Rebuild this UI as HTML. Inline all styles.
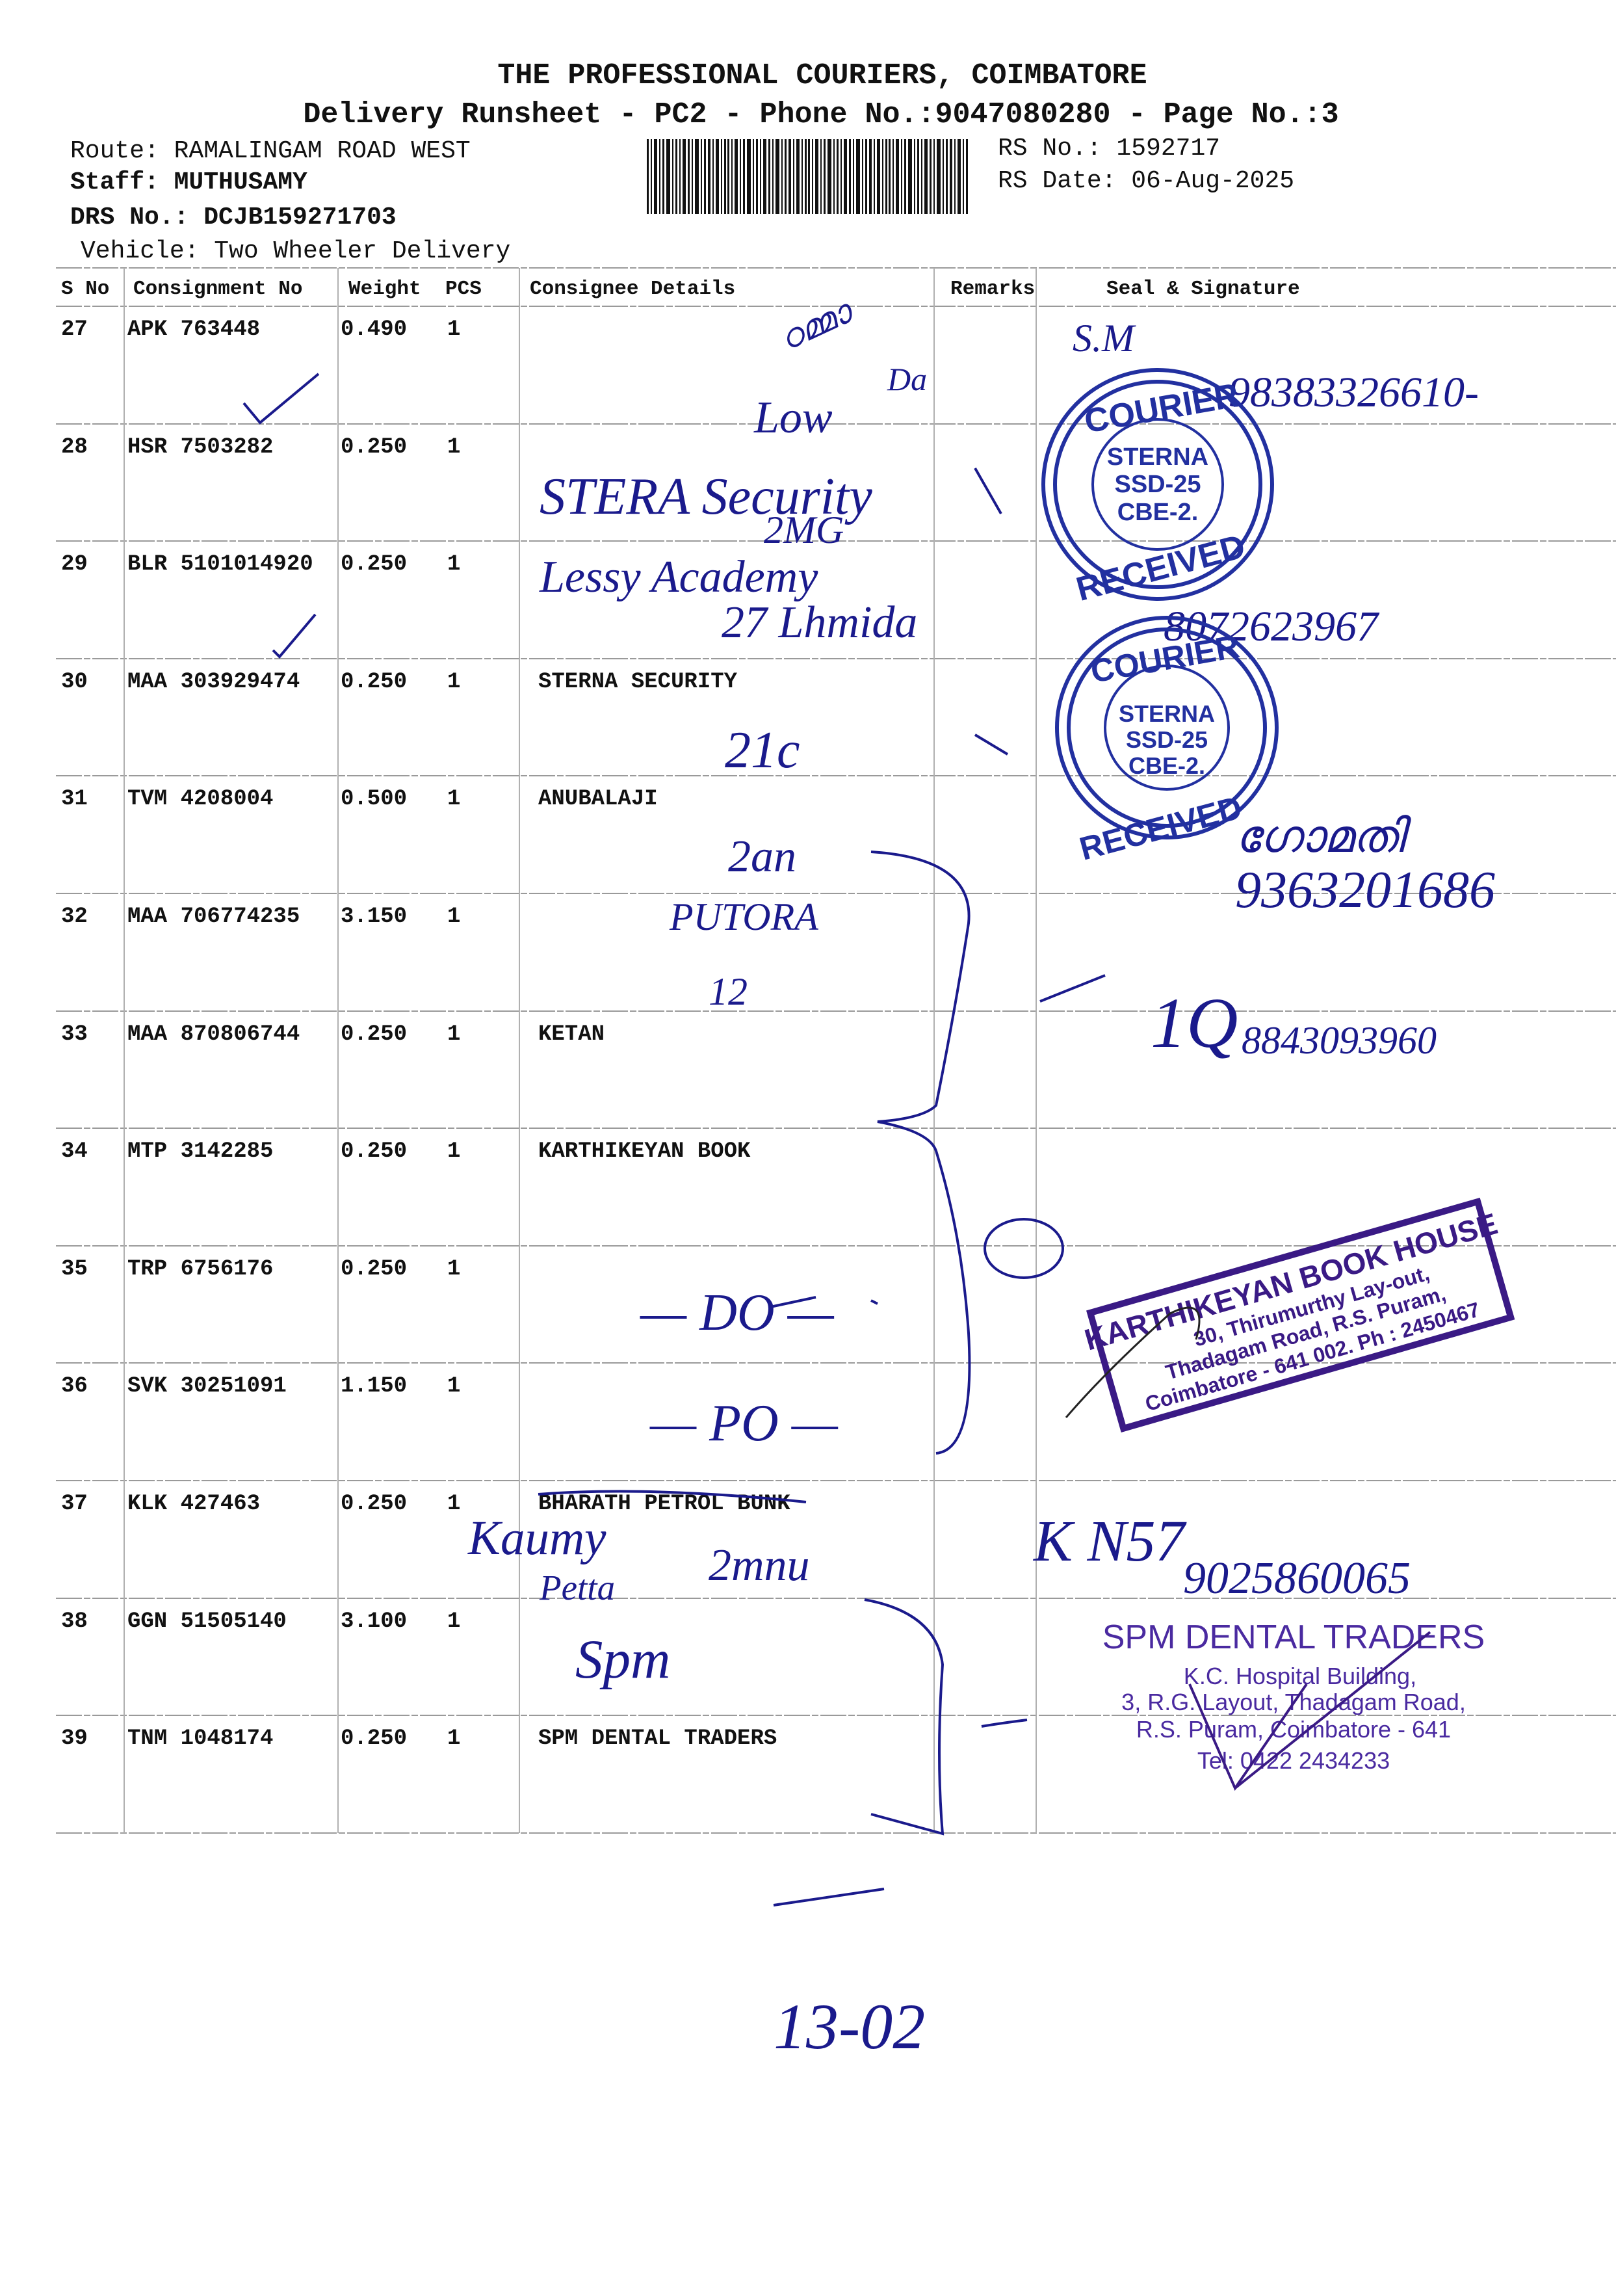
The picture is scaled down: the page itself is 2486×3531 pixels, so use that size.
<!DOCTYPE html>
<html><head><meta charset="utf-8">
<style>
html,body{margin:0;padding:0;background:#fff;}
svg{display:block;}
.m{font-family:"Liberation Mono",monospace;}
.b{font-weight:bold;}
.h{font-family:"Liberation Serif",serif;font-style:italic;fill:#1a1a8c;}
</style></head><body>
<svg width="2486" height="3531" viewBox="0 0 2486 3531" xmlns="http://www.w3.org/2000/svg">
<rect width="2486" height="3531" fill="#fff"/>
<g class="m b" fill="#111">
<text x="1265" y="128" font-size="45" text-anchor="middle">THE PROFESSIONAL COURIERS, COIMBATORE</text>
<text x="1263" y="188" font-size="45" text-anchor="middle">Delivery Runsheet - PC2 - Phone No.:9047080280 - Page No.:3</text>
</g>
<g class="m" fill="#111" font-size="38">
<text x="108" y="242">Route: RAMALINGAM ROAD WEST</text>
<text x="108" y="290" font-weight="bold">Staff: MUTHUSAMY</text>
<text x="108" y="344" font-weight="bold">DRS No.: DCJB159271703</text>
<text x="124" y="396" font-size="38">Vehicle: Two Wheeler Delivery</text>
<text x="1535" y="238">RS No.: 1592717</text>
<text x="1535" y="288">RS Date: 06-Aug-2025</text>
</g>
<g fill="#111">
<rect x="995" y="214" width="496" height="115" fill="url(#bc)"/>
</g>
<defs>
<pattern id="bc" x="995" y="0" width="124" height="115" patternUnits="userSpaceOnUse">
<rect x="0" width="3" height="115" fill="#111"/><rect x="6" width="2" height="115" fill="#111"/>
<rect x="11" width="5" height="115" fill="#111"/><rect x="19" width="2" height="115" fill="#111"/>
<rect x="24" width="3" height="115" fill="#111"/><rect x="30" width="6" height="115" fill="#111"/>
<rect x="39" width="2" height="115" fill="#111"/><rect x="44" width="3" height="115" fill="#111"/>
<rect x="50" width="2" height="115" fill="#111"/><rect x="55" width="5" height="115" fill="#111"/>
<rect x="63" width="3" height="115" fill="#111"/><rect x="69" width="2" height="115" fill="#111"/>
<rect x="74" width="6" height="115" fill="#111"/><rect x="83" width="2" height="115" fill="#111"/>
<rect x="88" width="3" height="115" fill="#111"/><rect x="94" width="4" height="115" fill="#111"/>
<rect x="101" width="2" height="115" fill="#111"/><rect x="106" width="5" height="115" fill="#111"/>
<rect x="114" width="2" height="115" fill="#111"/><rect x="119" width="3" height="115" fill="#111"/>
</pattern>
</defs>
<g stroke="#9a9a9a" stroke-width="2" stroke-dasharray="40 3 10 3">
<line x1="86" y1="412" x2="2486" y2="412"/>
<line x1="86" y1="471" x2="2486" y2="471"/>
<line x1="86" y1="652" x2="2486" y2="652"/>
<line x1="86" y1="832" x2="2486" y2="832"/>
<line x1="86" y1="1013" x2="2486" y2="1013"/>
<line x1="86" y1="1193" x2="2486" y2="1193"/>
<line x1="86" y1="1374" x2="2486" y2="1374"/>
<line x1="86" y1="1555" x2="2486" y2="1555"/>
<line x1="86" y1="1735" x2="2486" y2="1735"/>
<line x1="86" y1="1916" x2="2486" y2="1916"/>
<line x1="86" y1="2096" x2="2486" y2="2096"/>
<line x1="86" y1="2277" x2="2486" y2="2277"/>
<line x1="86" y1="2458" x2="2486" y2="2458"/>
<line x1="86" y1="2638" x2="2486" y2="2638"/>
<line x1="86" y1="2819" x2="2486" y2="2819"/>
</g>
<g stroke="#b0b0b0" stroke-width="2">
<line x1="191" y1="412" x2="191" y2="2819"/>
<line x1="520" y1="412" x2="520" y2="2819"/>
<line x1="799" y1="412" x2="799" y2="2819"/>
<line x1="1437" y1="412" x2="1437" y2="2819"/>
<line x1="1594" y1="412" x2="1594" y2="2819"/>
</g>
<g class="m b" fill="#111" font-size="31">
<text x="94" y="452">S No</text>
<text x="205" y="452">Consignment No</text>
<text x="536" y="452">Weight</text>
<text x="685" y="452">PCS</text>
<text x="815" y="452">Consignee Details</text>
<text x="1462" y="452">Remarks</text>
<text x="1702" y="452">Seal &amp; Signature</text>
</g>
<g class="m b" fill="#111" font-size="34">
<text x="94" y="515">27</text><text x="196" y="515">APK 763448</text><text x="524" y="515">0.490</text><text x="688" y="515">1</text>
<text x="94" y="696">28</text><text x="196" y="696">HSR 7503282</text><text x="524" y="696">0.250</text><text x="688" y="696">1</text>
<text x="94" y="876">29</text><text x="196" y="876">BLR 5101014920</text><text x="524" y="876">0.250</text><text x="688" y="876">1</text>
<text x="94" y="1057">30</text><text x="196" y="1057">MAA 303929474</text><text x="524" y="1057">0.250</text><text x="688" y="1057">1</text><text x="828" y="1057">STERNA SECURITY</text>
<text x="94" y="1237">31</text><text x="196" y="1237">TVM 4208004</text><text x="524" y="1237">0.500</text><text x="688" y="1237">1</text><text x="828" y="1237">ANUBALAJI</text>
<text x="94" y="1418">32</text><text x="196" y="1418">MAA 706774235</text><text x="524" y="1418">3.150</text><text x="688" y="1418">1</text>
<text x="94" y="1599">33</text><text x="196" y="1599">MAA 870806744</text><text x="524" y="1599">0.250</text><text x="688" y="1599">1</text><text x="828" y="1599">KETAN</text>
<text x="94" y="1779">34</text><text x="196" y="1779">MTP 3142285</text><text x="524" y="1779">0.250</text><text x="688" y="1779">1</text><text x="828" y="1779">KARTHIKEYAN BOOK</text>
<text x="94" y="1960">35</text><text x="196" y="1960">TRP 6756176</text><text x="524" y="1960">0.250</text><text x="688" y="1960">1</text>
<text x="94" y="2140">36</text><text x="196" y="2140">SVK 30251091</text><text x="524" y="2140">1.150</text><text x="688" y="2140">1</text>
<text x="94" y="2321">37</text><text x="196" y="2321">KLK 427463</text><text x="524" y="2321">0.250</text><text x="688" y="2321">1</text><text x="828" y="2321">BHARATH PETROL  BUNK</text>
<text x="94" y="2502">38</text><text x="196" y="2502">GGN 51505140</text><text x="524" y="2502">3.100</text><text x="688" y="2502">1</text>
<text x="94" y="2682">39</text><text x="196" y="2682">TNM 1048174</text><text x="524" y="2682">0.250</text><text x="688" y="2682">1</text><text x="828" y="2682">SPM DENTAL TRADERS</text>
</g>
<path d="M828 2298 Q1000 2285 1240 2310" stroke="#1a1a8c" stroke-width="4" fill="none"/>
<g class="h">
<text x="1210" y="540" font-size="50" transform="rotate(-25 1210 540)">ഠമ്മാ</text>
<text x="1160" y="665" font-size="70">Low</text><text x="1365" y="600" font-size="50">Da</text>
<text x="830" y="790" font-size="80">STERA Security</text>
<text x="1175" y="835" font-size="60">2MG</text>
<text x="830" y="910" font-size="70">Lessy Academy</text>
<text x="1110" y="980" font-size="70">27 Lhmida</text>
<text x="1115" y="1180" font-size="80">21c</text>
<text x="1120" y="1340" font-size="70">2an</text>
<text x="1030" y="1430" font-size="60">PUTORA</text>
<text x="1090" y="1545" font-size="60">12</text>
<text x="985" y="2045" font-size="80">— DO —</text>
<text x="1000" y="2215" font-size="80">— PO —</text>
<text x="720" y="2390" font-size="75">Kaumy</text>
<text x="1090" y="2430" font-size="70">2mnu</text>
<text x="830" y="2460" font-size="55">Petta</text>
<text x="885" y="2580" font-size="85">Spm</text>
<text x="1650" y="540" font-size="60">S.M</text>
<text x="1890" y="625" font-size="66">98383326610-</text>
<text x="1790" y="985" font-size="66">8072623967</text>
<text x="1900" y="1310" font-size="70">ഗോമതി</text>
<text x="1900" y="1395" font-size="80">9363201686</text>
<text x="1770" y="1610" font-size="110">1Q</text>
<text x="1910" y="1620" font-size="60">8843093960</text>
<text x="1590" y="2400" font-size="90">K N57</text>
<text x="1820" y="2450" font-size="70">9025860065</text>
<text x="1190" y="3150" font-size="100">13-02</text>
</g>
<g stroke="#1a1a8c" stroke-width="4" fill="none">
<path d="M375 620 L400 650 L490 575"/>
<path d="M420 1000 L430 1010 L485 945"/>
<path d="M1340 1310 Q1500 1320 1490 1420 Q1470 1550 1440 1700 Q1420 1720 1350 1725 Q1430 1740 1440 1770 Q1480 1900 1490 2050 Q1500 2230 1440 2235"/>
<path d="M1330 2460 Q1440 2480 1450 2560 Q1440 2700 1450 2820 L1340 2790"/>
<path d="M1600 1540 L1700 1500"/>
<path d="M1185 2010 L1255 1995"/><path d="M1350 2005 L1340 2000"/>
<ellipse cx="1575" cy="1920" rx="60" ry="45"/>
<path d="M1500 1130 L1550 1160"/>
<path d="M1500 720 L1540 790"/>
<path d="M1190 2930 L1360 2905"/>
</g>
<g fill="none" stroke="#2230a0" stroke-width="6">
<circle cx="1781" cy="745" r="176"/><circle cx="1781" cy="745" r="158"/><circle cx="1781" cy="745" r="100" stroke-width="4"/>
<circle cx="1795" cy="1119" r="169"/><circle cx="1795" cy="1119" r="151"/><circle cx="1795" cy="1119" r="95" stroke-width="4"/>
</g>
<g font-family="Liberation Sans,sans-serif" font-weight="bold" fill="#2230a0" text-anchor="middle">
<text x="1781" y="715" font-size="38">STERNA</text><text x="1781" y="757" font-size="38">SSD-25</text><text x="1781" y="800" font-size="38">CBE-2.</text>
<text x="1795" y="1110" font-size="36">STERNA</text><text x="1795" y="1150" font-size="36">SSD-25</text><text x="1795" y="1190" font-size="36">CBE-2.</text>
<text x="1790" y="645" font-size="52" transform="rotate(-10 1790 645)">COURIER</text>
<text x="1790" y="890" font-size="52" transform="rotate(-15 1790 890)">RECEIVED</text>
<text x="1795" y="1030" font-size="50" transform="rotate(-10 1795 1030)">COURIER</text>
<text x="1790" y="1290" font-size="50" transform="rotate(-15 1790 1290)">RECEIVED</text>
</g>
<g transform="rotate(-16 2000 2020)" fill="#3a1a85">
<rect x="1690" y="1930" width="620" height="185" fill="none" stroke="#3a1a85" stroke-width="10"/>
<text x="2000" y="1985" font-family="Liberation Sans,sans-serif" font-weight="bold" font-size="46" text-anchor="middle">KARTHIKEYAN BOOK HOUSE</text>
<text x="2020" y="2025" font-family="Liberation Sans,sans-serif" font-weight="bold" font-size="32" text-anchor="middle">30, Thirumurthy Lay-out,</text>
<text x="2000" y="2062" font-family="Liberation Sans,sans-serif" font-weight="bold" font-size="32" text-anchor="middle">Thadagam Road, R.S. Puram,</text>
<text x="2000" y="2100" font-family="Liberation Sans,sans-serif" font-weight="bold" font-size="32" text-anchor="middle">Coimbatore - 641 002. Ph : 2450467</text>
</g>
<path d="M1640 2180 Q1700 2110 1800 2020 Q1860 1990 1840 2060" stroke="#222" stroke-width="3" fill="none"/>
<g font-family="Liberation Sans,sans-serif" fill="#4a2aa0" text-anchor="middle">
<text x="1990" y="2535" font-size="52">SPM DENTAL TRADERS</text>
<text x="2000" y="2590" font-size="36">K.C. Hospital Building,</text>
<text x="1990" y="2630" font-size="36">3, R.G. Layout, Thadagam Road,</text>
<text x="1990" y="2672" font-size="36">R.S. Puram, Coimbatore - 641</text>
<text x="1990" y="2720" font-size="36">Tel: 0422 2434233</text>
</g>
<path d="M1830 2590 L1900 2750 L2010 2590 M1900 2750 L2200 2510" stroke="#3a1a85" stroke-width="4" fill="none"/>
<path d="M1510 2655 Q1540 2650 1580 2645" stroke="#1a1a8c" stroke-width="4" fill="none"/>
</svg>
</body></html>
